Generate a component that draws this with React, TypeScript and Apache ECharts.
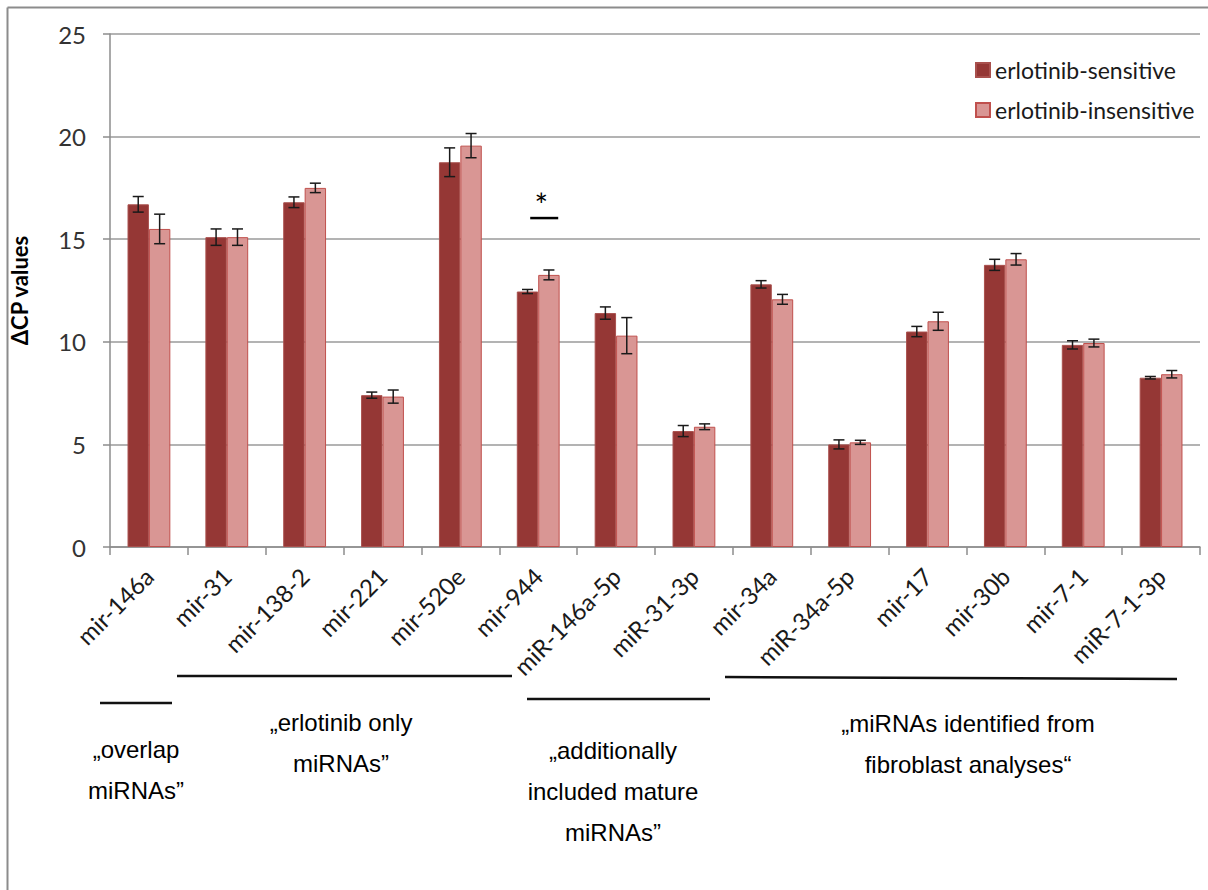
import React, { useEffect, useRef } from 'react';
import * as echarts from 'echarts';

// miRNA assays along the x axis
const categories = [
  'mir-146a', 'mir-31', 'mir-138-2', 'mir-221', 'mir-520e', 'mir-944',
  'miR-146a-5p', 'miR-31-3p', 'mir-34a', 'miR-34a-5p', 'mir-17', 'mir-30b',
  'mir-7-1', 'miR-7-1-3p',
];

// mean ΔCP per group and its error (± half-length of the error bar)
const sensitive = [16.7, 15.1, 16.8, 7.4, 18.75, 12.45, 11.4, 5.65, 12.8, 5.0, 10.5, 13.75, 9.85, 8.25];
const sensitiveErr = [0.38, 0.4, 0.26, 0.15, 0.7, 0.1, 0.3, 0.27, 0.18, 0.22, 0.25, 0.27, 0.2, 0.06];
const insensitive = [15.5, 15.1, 17.5, 7.33, 19.56, 13.26, 10.3, 5.86, 12.07, 5.1, 11.0, 14.02, 9.94, 8.42];
const insensitiveErr = [0.72, 0.4, 0.23, 0.32, 0.59, 0.24, 0.88, 0.14, 0.24, 0.1, 0.44, 0.28, 0.19, 0.18];

const seriesNames = ['erlotinib-sensitive', 'erlotinib-insensitive'];
const yTicks = { min: 0, max: 25, interval: 5 };

// significant difference marker (category and height of the bar line)
const significant = [{ category: 'mir-944', level: 16.03 }];

// group captions below the axis
const groupCaptions = [
  { lines: ['„overlap', 'miRNAs”'], x: 136, y: 770 },
  { lines: ['„erlotinib only', 'miRNAs”'], x: 341, y: 743 },
  { lines: ['„additionally', 'included mature', 'miRNAs”'], x: 613, y: 791 },
  { lines: ['„miRNAs identified from', 'fibroblast analyses“'], x: 968, y: 744 },
];
const groupRules = [
  { x1: 100, y1: 703, x2: 172, y2: 703 },
  { x1: 177, y1: 676, x2: 512, y2: 676 },
  { x1: 527, y1: 699, x2: 710, y2: 699 },
  { x1: 725, y1: 677, x2: 1177, y2: 679 },
];

const CAT_GAP = 0.45;
const DARK = '#953735';
const LIGHT = '#D99694';
const FONT = 'Lato, "Open Sans", sans-serif';

function errorBars(name: string, values: number[], errs: number[], side: number) {
  return {
    type: 'custom',
    name,
    silent: true,
    z: 5,
    encode: { x: 0, y: 1 },
    data: values.map((v, i) => [i, v, errs[i]]),
    renderItem: (_params: any, api: any) => {
      const i = api.value(0);
      const v = api.value(1);
      const e = api.value(2);
      const catW = api.size([1, 0])[0];
      const barW = (catW * (1 - CAT_GAP)) / 2;
      const c = api.coord([i, v]);
      const x = c[0] + (side * barW) / 2;
      const top = api.coord([i, v + e])[1];
      const bot = api.coord([i, v - e])[1];
      const cap = 5.5;
      const style = { stroke: '#1a1a1a', lineWidth: 1.5 };
      return {
        type: 'group',
        children: [
          { type: 'line', shape: { x1: x, y1: top, x2: x, y2: bot }, style },
          { type: 'line', shape: { x1: x - cap, y1: top, x2: x + cap, y2: top }, style },
          { type: 'line', shape: { x1: x - cap, y1: bot, x2: x + cap, y2: bot }, style },
        ],
      };
    },
  };
}

export default function App() {
  const ref = useRef<HTMLDivElement>(null);

  useEffect(() => {
    const chart = echarts.init(ref.current!, null, { renderer: 'svg' });

    const graphic: any[] = [
      // outer frame (left and top edges)
      { type: 'line', shape: { x1: 7.5, y1: 7.5, x2: 7.5, y2: 890 }, style: { stroke: '#8c8c8c', lineWidth: 2 } },
      { type: 'line', shape: { x1: 7.5, y1: 7.5, x2: 1208, y2: 7.5 }, style: { stroke: '#8c8c8c', lineWidth: 2 } },
    ];
    groupRules.forEach((r) =>
      graphic.push({ type: 'line', shape: r, style: { stroke: '#111', lineWidth: 2.5 } })
    );
    groupCaptions.forEach((g) =>
      graphic.push({
        type: 'text',
        x: g.x,
        y: g.y,
        style: {
          text: g.lines.join('\n'),
          font: '24px "Liberation Sans", Arial, sans-serif',
          fill: '#000',
          align: 'center',
          verticalAlign: 'middle',
          lineHeight: 41,
        },
      })
    );

    const option: any = {
      animation: false,
      backgroundColor: '#fff',
      textStyle: { fontFamily: FONT },
      grid: { left: 110, right: 8, top: 34, bottom: 343, containLabel: false },
      legend: {
        data: seriesNames,
        orient: 'vertical',
        left: 970,
        top: 53,
        itemWidth: 14,
        itemHeight: 14,
        itemGap: 16,
        icon: 'rect',
        textStyle: { fontFamily: FONT, fontSize: 23, color: '#1a1a1a', lineHeight: 24 },
      },
      xAxis: {
        type: 'category',
        data: categories,
        axisLine: { lineStyle: { color: '#8c8c8c', width: 1.5 } },
        axisTick: { show: true, length: 8, lineStyle: { color: '#8c8c8c', width: 1.5 } },
        axisLabel: {
          rotate: 45,
          interval: 0,
          margin: 25,
          fontFamily: FONT,
          fontSize: 24,
          color: '#1a1a1a',
        },
      },
      yAxis: {
        type: 'value',
        min: yTicks.min,
        max: yTicks.max,
        interval: yTicks.interval,
        name: 'ΔCP values',
        nameLocation: 'middle',
        nameRotate: 90,
        nameGap: 80,
        nameTextStyle: { fontFamily: FONT, fontWeight: 'bold', fontSize: 22, color: '#000' },
        axisLine: { show: true, lineStyle: { color: '#8c8c8c', width: 1.5 } },
        axisTick: { show: true, length: 7, lineStyle: { color: '#8c8c8c', width: 1.5 } },
        axisLabel: { margin: 24, fontFamily: FONT, fontSize: 24, color: '#333' },
        splitLine: { lineStyle: { color: '#9a9a9a', width: 1.5 } },
      },
      series: [
        {
          type: 'bar',
          name: seriesNames[0],
          data: sensitive,
          barGap: '0%',
          barCategoryGap: CAT_GAP * 100 + '%',
          itemStyle: { color: DARK, borderColor: '#a9504d', borderWidth: 1 },
        },
        {
          type: 'bar',
          name: seriesNames[1],
          data: insensitive,
          barGap: '0%',
          barCategoryGap: CAT_GAP * 100 + '%',
          itemStyle: { color: LIGHT, borderColor: '#c0504d', borderWidth: 1 },
        },
        errorBars('sensitive-error', sensitive, sensitiveErr, -1),
        errorBars('insensitive-error', insensitive, insensitiveErr, 1),
        {
          type: 'custom',
          name: 'significance',
          silent: true,
          z: 6,
          encode: { x: 0, y: 1 },
          data: significant.map((s) => [categories.indexOf(s.category), s.level]),
          renderItem: (_params: any, api: any) => {
            const p = api.coord([api.value(0), api.value(1)]);
            return {
              type: 'group',
              children: [
                { type: 'line', shape: { x1: p[0] - 8, y1: p[1], x2: p[0] + 20, y2: p[1] }, style: { stroke: '#000', lineWidth: 2.5 } },
                {
                  type: 'text',
                  x: p[0] + 3,
                  y: p[1] - 14,
                  style: { text: '*', font: '32px Lato, sans-serif', fill: '#000', align: 'center', verticalAlign: 'middle' },
                },
              ],
            };
          },
        },
      ],
      graphic,
    };

    chart.setOption(option);
    return () => chart.dispose();
  }, []);

  return (
    <div
      ref={ref}
      style={{ position: 'absolute', left: 0, top: 0, width: 1208, height: 890, background: '#fff' }}
    />
  );
}
